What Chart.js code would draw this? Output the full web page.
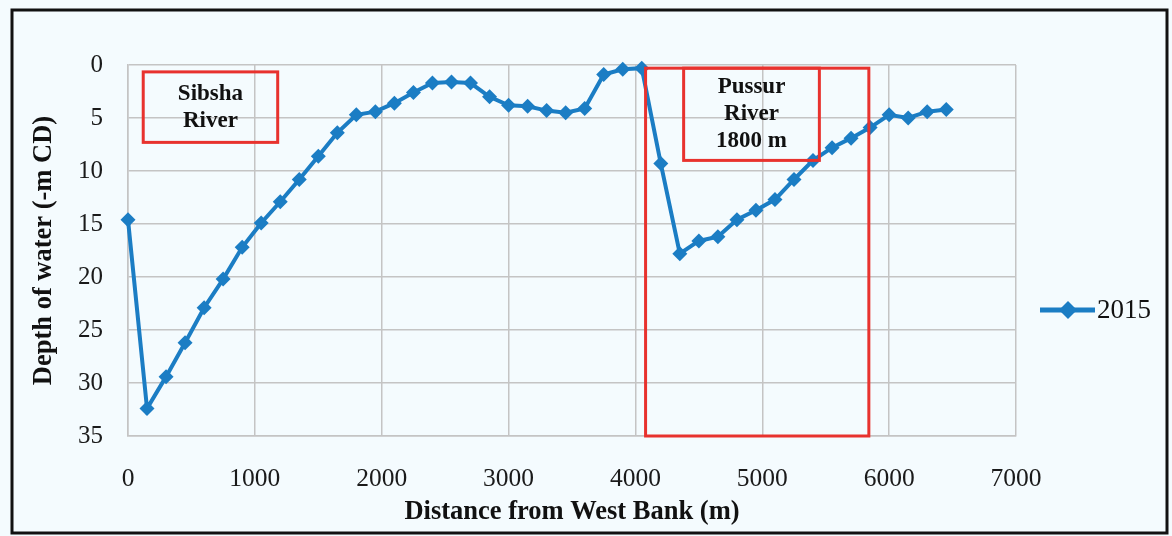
<!DOCTYPE html>
<html>
<head>
<meta charset="utf-8">
<script src="https://cdn.jsdelivr.net/npm/chart.js@4"></script>
<style>
  html, body { margin: 0; padding: 0; background: #f4fbfe; }
  #wrap { position: relative; width: 1172px; height: 536px; }
</style>
</head>
<body>
<div id="wrap"><canvas id="depthChart" width="1172" height="536"></canvas></div>
<script>
// distance from west bank (m) and depth (-m CD), survey 2015
var distances = [0, 150, 300, 450, 600, 750, 900, 1050, 1200, 1350, 1500, 1650, 1800, 1950, 2100, 2250,
  2400, 2550, 2700, 2850, 3000, 3150, 3300, 3450, 3600, 3750, 3900, 4050, 4200, 4350, 4500,
  4650, 4800, 4950, 5100, 5250, 5400, 5550, 5700, 5850, 6000, 6150, 6300, 6450];
var depth2015 = [14.6, 32.4, 29.4, 26.2, 22.9, 20.2, 17.2, 14.9, 12.9, 10.8, 8.6, 6.4, 4.7, 4.4, 3.6, 2.6,
  1.7, 1.6, 1.7, 3.0, 3.8, 3.9, 4.3, 4.5, 4.1, 0.9, 0.4, 0.3, 9.3, 17.8, 16.6,
  16.2, 14.6, 13.7, 12.7, 10.8, 9.0, 7.8, 6.9, 5.9, 4.7, 5.0, 4.4, 4.2];
var xTicks = [0, 1000, 2000, 3000, 4000, 5000, 6000, 7000];
var yTicks = [0, 5, 10, 15, 20, 25, 30, 35];

// labelled boxes (data coordinates)
var riverBoxes = [
  { x0: 120, x1: 1180, y0: 0.65, y1: 7.3, lines: ['Sibsha', 'River'] },
  { x0: 4380, x1: 5450, y0: 0.3, y1: 9.0, lines: ['Pussur', 'River', '1800 m'] },
  { x0: 4080, x1: 5840, y0: 0.3, y1: 35, lines: [] }
];

var blue = '#1b7dc4';
var serif = '"Liberation Serif", "Times New Roman", serif';

var points = distances.map(function (d, i) { return { x: d, y: depth2015[i] }; });

var frame = {
  id: 'frame',
  beforeDraw: function (chart) {
    var c = chart.ctx;
    c.save();
    c.fillStyle = '#f4fbfe';
    c.fillRect(0, 0, chart.width, chart.height);
    c.restore();
  },
  afterDraw: function (chart) {
    var c = chart.ctx;
    var xs = chart.scales.x, ys = chart.scales.y;
    c.save();
    // river boxes
    riverBoxes.forEach(function (b) {
      var l = xs.getPixelForValue(b.x0), r = xs.getPixelForValue(b.x1);
      var t = ys.getPixelForValue(b.y0), btm = ys.getPixelForValue(b.y1);
      c.strokeStyle = '#e8322e';
      c.lineWidth = 3;
      c.strokeRect(l, t, r - l, btm - t);
      c.fillStyle = '#111';
      c.font = 'bold 23px ' + serif;
      c.textAlign = 'center';
      c.textBaseline = 'middle';
      var n = b.lines.length, lh = 27;
      var cy = (t + btm) / 2 - (n - 1) * lh / 2;
      b.lines.forEach(function (s, k) { c.fillText(s, (l + r) / 2, cy + k * lh); });
    });
    // legend
    var ly = 310;
    c.strokeStyle = blue;
    c.lineWidth = 5;
    c.beginPath(); c.moveTo(1040, ly); c.lineTo(1095, ly); c.stroke();
    c.fillStyle = blue;
    c.beginPath();
    c.moveTo(1068, ly - 9); c.lineTo(1077, ly); c.lineTo(1068, ly + 9); c.lineTo(1059, ly);
    c.closePath(); c.fill();
    c.fillStyle = '#111';
    c.font = '27px ' + serif;
    c.textAlign = 'left';
    c.textBaseline = 'middle';
    c.fillText('2015', 1097, ly + 1);
    // outer border
    c.strokeStyle = '#111';
    c.lineWidth = 3;
    c.strokeRect(12, 10, 1155, 523);
    c.restore();
  }
};

new Chart(document.getElementById('depthChart').getContext('2d'), {
  type: 'line',
  data: {
    datasets: [{
      label: '2015',
      data: points,
      borderColor: blue,
      backgroundColor: blue,
      borderWidth: 4,
      pointStyle: 'rectRot',
      pointRadius: 7.5,
      pointBorderWidth: 0,
      tension: 0,
      clip: false
    }]
  },
  options: {
    responsive: false,
    animation: false,
    layout: { padding: { left: 12, right: 156, top: 65, bottom: 10 } },
    plugins: { legend: { display: false }, tooltip: { enabled: false } },
    scales: {
      x: {
        type: 'linear',
        min: 0, max: 7000,
        afterBuildTicks: function (s) { s.ticks = xTicks.map(function (v) { return { value: v }; }); },
        afterFit: function (s) { s.height = 90; },
        grid: { color: '#c4c4c4', lineWidth: 1.5, drawTicks: false },
        border: { color: '#c4c4c4', width: 1.5 },
        ticks: {
          color: '#1a1a1a', padding: 28, font: { family: serif, size: 25.5 }, maxRotation: 0,
          callback: function (v) { return String(v); }
        },
        title: {
          display: true, text: 'Distance from West Bank (m)', color: '#111',
          font: { family: serif, size: 26.5, weight: 'bold' }, padding: { top: 0, bottom: -2 }
        }
      },
      y: {
        type: 'linear',
        reverse: true,
        min: 0, max: 35,
        afterBuildTicks: function (s) { s.ticks = yTicks.map(function (v) { return { value: v }; }); },
        afterFit: function (s) { s.width = 116; },
        grid: { color: '#c4c4c4', lineWidth: 1.5, drawTicks: false },
        border: { color: '#c4c4c4', width: 1.5 },
        ticks: {
          color: '#1a1a1a', padding: 25, font: { family: serif, size: 25 },
          callback: function (v) { return String(v); }
        },
        title: {
          display: true, text: 'Depth of water (-m CD)', color: '#111',
          font: { family: serif, size: 26.5, weight: 'bold' }, padding: { top: 16, bottom: 0 }
        }
      }
    }
  },
  plugins: [frame]
});
</script>
</body>
</html>
